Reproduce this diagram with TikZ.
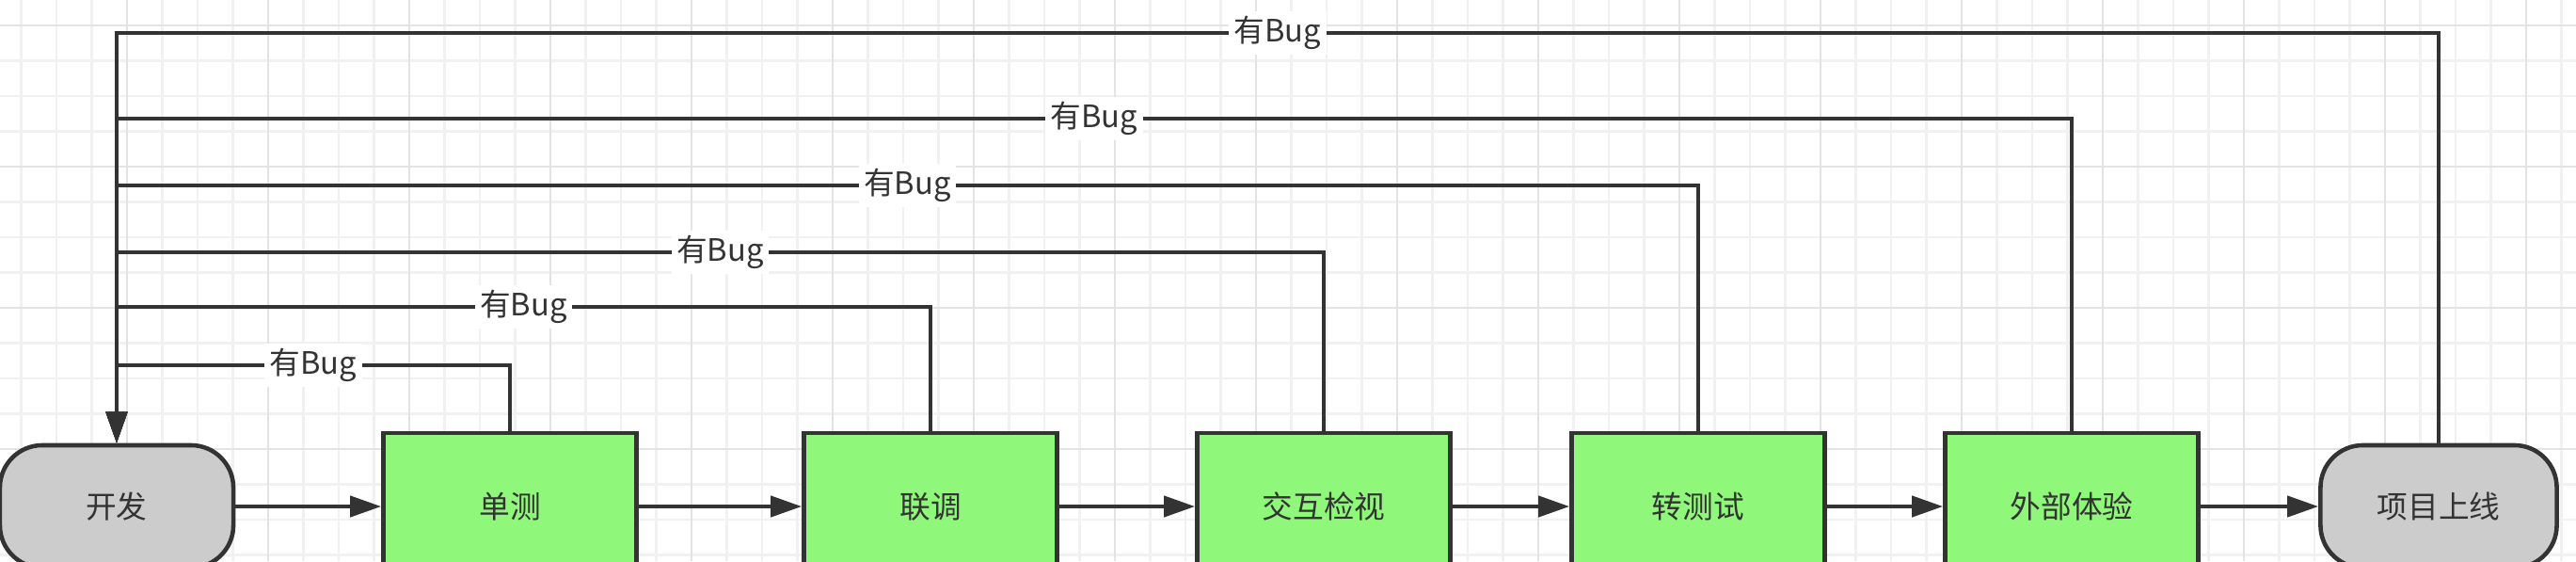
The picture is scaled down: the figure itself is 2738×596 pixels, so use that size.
\documentclass[tikz,border=0pt]{standalone}
\usepackage{fontspec}
\setmainfont{Noto Sans CJK SC}
\usetikzlibrary{arrows.meta}
\definecolor{edgegray}{HTML}{333333}
\definecolor{boxgreen}{HTML}{8FF77A}
\definecolor{endgray}{HTML}{CCCCCC}
\definecolor{gridminor}{HTML}{F1F1F1}
\definecolor{gridmajor}{HTML}{E3E3E3}

\begin{document}
\begin{tikzpicture}[
            x=0.01cm, y=-0.01cm,
            font=\fontsize{9.3pt}{11pt}\selectfont,
            stage/.style={fill=boxgreen, draw=edgegray, text=edgegray, line width=1.3pt, minimum width=2.69cm, minimum height=1.56cm, inner sep=0pt},
            terminal/.style={fill=endgray, draw=edgegray, text=edgegray, line width=1.3pt, rounded corners=0.45cm, minimum height=1.3cm, inner sep=0pt},
            flow/.style={draw=edgegray, line width=1.2pt, -{Triangle[length=0.33cm, width=0.22cm]}},
            bug/.style={fill=white, text=edgegray, inner sep=1.5pt},
        ]
            \clip (0,0) rectangle (2738,596);
            %% grid
            \foreach \gx in {22.5,60,...,2738} \draw[gridminor, line width=0.6pt] (\gx,0) -- (\gx,596);
            \foreach \gy in {27,64.5,...,596} \draw[gridminor, line width=0.6pt] (0,\gy) -- (2738,\gy);
            \foreach \gx in {135,285,...,2738} \draw[gridmajor, line width=0.8pt] (\gx,0) -- (\gx,596);
            \foreach \gy in {27,177,...,596} \draw[gridmajor, line width=0.8pt] (0,\gy) -- (2738,\gy);
            %% stages
            \node[terminal, minimum width=2.48cm] at (124, 538) (dev) {开发};
            \node[stage] at (542, 538) (ut) {单测};
            \node[stage] at (989, 538) (it) {联调};
            \node[stage] at (1407, 538) (rev) {交互检视};
            \node[stage] at (1805, 538) (tt) {转测试};
            \node[stage] at (2202, 538) (ext) {外部体验};
            \node[terminal, minimum width=2.51cm] at (2592, 538) (live) {项目上线};
            %% flow
            \draw[flow] (dev) -- (ut);
            \draw[flow] (ut) -- (it);
            \draw[flow] (it) -- (rev);
            \draw[flow] (rev) -- (tt);
            \draw[flow] (tt) -- (ext);
            \draw[flow] (ext) -- (live);
            %% back to development
            \foreach \n/\lv in {ut/388, it/326, rev/268, tt/197, ext/126, live/35} {
                \coordinate (lv-\n) at (0, \lv);
                \draw[flow] (\n.north) -- (\n.north |- lv-\n) -- node[bug] {有Bug} (dev.north |- lv-\n) -- (dev.north);
            }

        \end{tikzpicture}
\end{document}
